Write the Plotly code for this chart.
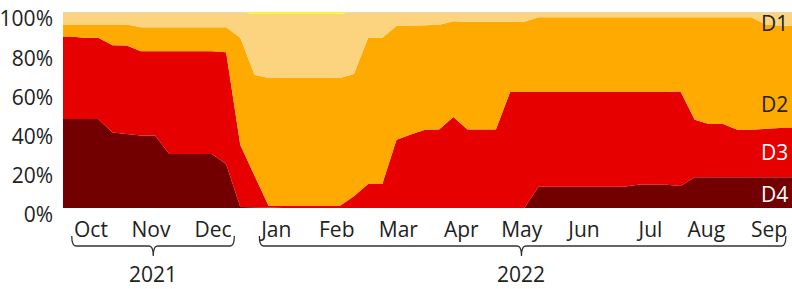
import plotly.graph_objects as go

# ---------------- data (weekly shares of area, %) ----------------
WEEKS = list(range(51))  # weekly categories, Oct 2021 .. Sep 2022

D4 = [45.4, 45.4, 45.4, 38.5, 37.8, 37.0, 37.0, 27.6, 27.6, 27.6, 27.6, 22.5, 0.5,
      0.4, 0.2, 0, 0, 0, 0, 0, 0, 0, 0, 0, 0, 0, 0, 0, 0, 0, 0, 0, 0,
      10.9, 10.9, 10.9, 10.9, 10.9, 10.9, 10.9, 11.8, 11.8, 11.8, 11.2,
      15.7, 15.7, 15.7, 15.7, 15.7, 15.7, 15.7]
D3 = [42.1, 41.5, 41.4, 44.5, 45.1, 43.0, 43.0, 52.4, 52.4, 52.4, 52.4, 57.0, 31.7,
      16.0, 0.8, 1.0, 1.0, 1.0, 1.0, 1.0, 6.0, 12.3, 12.3, 34.8, 37.5, 39.9, 40.0,
      46.4, 40.1, 40.1, 40.1, 59.2, 59.2,
      48.3, 48.3, 48.3, 48.3, 48.3, 48.3, 48.3, 47.4, 47.4, 47.4, 48.3,
      29.3, 27.1, 27.1, 24.2, 24.2, 24.7, 25.1]
D2 = [6.1, 6.7, 6.8, 10.6, 10.7, 12.2, 12.2, 12.2, 12.2, 12.2, 12.2, 12.7, 54.6,
      51.6, 65.3, 65.3, 65.3, 65.3, 65.3, 65.3, 62.4, 74.5, 74.5, 58.0, 55.6, 53.3, 53.5,
      48.9, 54.9, 54.9, 54.9, 35.8, 35.8,
      38.1, 38.1, 38.1, 38.1, 38.1, 38.1, 38.1, 38.1, 38.1, 38.1, 37.8,
      52.3, 54.5, 54.5, 57.4, 57.4, 53.2, 52.2]
D1 = [6.4, 6.4, 6.4, 6.4, 6.4, 7.8, 7.8, 7.8, 7.8, 7.8, 7.8, 7.8, 13.2,
      31.0, 32.7, 32.7, 32.7, 32.7, 32.7, 32.7, 31.6, 13.2, 13.2, 7.2, 6.9, 6.8, 6.5,
      4.7, 5.0, 5.0, 5.0, 5.0, 5.0,
      2.7, 2.7, 2.7, 2.7, 2.7, 2.7, 2.7, 2.7, 2.7, 2.7, 2.7,
      2.7, 2.7, 2.7, 2.7, 2.7, 6.4, 7.0]
D0 = [0, 0, 0, 0, 0, 0, 0, 0, 0, 0, 0, 0, 0,
      1.0, 1.0, 1.0, 1.0, 1.0, 1.0, 1.0, 0, 0, 0, 0, 0, 0, 0,
      0, 0, 0, 0, 0, 0,
      0, 0, 0, 0, 0, 0, 0, 0, 0, 0, 0,
      0, 0, 0, 0, 0, 0, 0]

MONTHS = ["Oct", "Nov", "Dec", "Jan", "Feb", "Mar", "Apr", "May", "Jun", "Jul", "Aug", "Sep"]
YEARS = ["2021", "2022"]
Y_TICKS = [0, 20, 40, 60, 80, 100]

# ---------------- layout constants ----------------
X_RANGE = [-0.486, 50.85]
MONTH_POS = [1.48, 5.71, 10.08, 14.53, 18.79, 23.13, 27.56, 31.82, 36.2, 40.88, 44.82, 49.23]
YEAR_BRACES = [(0.13, 11.58, 5.87), (13.34, 50.42, 31.8)]
FONT = "Open Sans"
TXT = "#222222"

series = [("D4", D4, "#730000"), ("D3", D3, "#E60000"), ("D2", D2, "#FFAA00"),
          ("D1", D1, "#FCD37F"), ("D0", D0, "#FFFF00")]

# extend first/last values to the plot edges (as the original renders them)
xs = [X_RANGE[0]] + WEEKS + [X_RANGE[1]]

fig = go.Figure()
for name, vals, col in series:
    fig.add_trace(go.Scatter(
        x=xs, y=[vals[0]] + vals + [vals[-1]], name=name, mode="none",
        stackgroup="one", fillcolor=col, hoverinfo="skip", showlegend=False))

shapes = [dict(type="line", xref="paper", yref="y", x0=0, x1=1, y0=100, y1=100,
               line=dict(color="#d9d9d9", width=1), layer="above")]

yt, yl, yb = -0.143, -0.194, -0.245
r = 0.3
for x0, x1, xm in YEAR_BRACES:
    path = (f"M {x0},{yt} Q {x0},{yl} {x0 + r},{yl} L {xm - r},{yl} "
            f"Q {xm},{yl} {xm},{yb} Q {xm},{yl} {xm + r},{yl} "
            f"L {x1 - r},{yl} Q {x1},{yl} {x1},{yt}")
    shapes.append(dict(type="path", xref="x", yref="paper", path=path,
                       line=dict(color="#333333", width=1.3)))

annotations = []
for (x0, x1, xm), yr in zip(YEAR_BRACES, YEARS):
    annotations.append(dict(x=xm, y=-0.4133, xref="x", yref="paper", text=yr,
                            showarrow=False, xanchor="center", yanchor="bottom",
                            borderpad=0,
                            font=dict(family=FONT, size=21, color=TXT)))

labels = [("D1", 0.946, TXT), ("D2", 0.53, TXT), ("D3", 0.288, "white"), ("D4", 0.071, "white")]
for t, yp, c in labels:
    annotations.append(dict(x=1, y=yp, xref="paper", yref="paper", text=t, showarrow=False,
                            xanchor="right", yanchor="middle", xshift=-2,
                            font=dict(family=FONT, size=21, color=c)))

fig.update_layout(
    width=792, height=289,
    margin=dict(l=63, r=0, t=12, b=81, autoexpand=False),
    paper_bgcolor="white", plot_bgcolor="white",
    font=dict(family=FONT, size=21, color=TXT),
    shapes=shapes, annotations=annotations,
    xaxis=dict(range=X_RANGE, tickvals=MONTH_POS, ticktext=MONTHS, showgrid=False,
               zeroline=False, showline=False, ticks="", ticklabelstandoff=7,
               automargin=False,
               tickfont=dict(family=FONT, size=21, color=TXT)),
    yaxis=dict(range=[0, 100], tickvals=Y_TICKS, ticktext=[f"{v}%" for v in Y_TICKS],
               showgrid=True, gridcolor="#d9d9d9", zeroline=False, showline=False,
               ticks="", ticklabelstandoff=9, ticklabelshift=7, automargin=False,
               ticklabeloverflow="allow",
               tickfont=dict(family=FONT, size=21, color=TXT)),
)

fig.write_html("out.html", config={"displayModeBar": False},
               post_script="document.body.style.margin='0';document.body.style.overflow='hidden';")
